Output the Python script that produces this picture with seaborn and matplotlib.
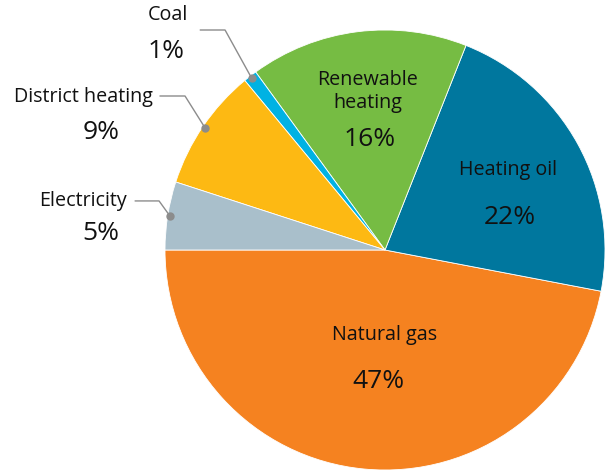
import numpy as np
import seaborn as sns
import matplotlib.pyplot as plt

# heating energy mix
sources = ["Natural gas", "Heating oil", "Renewable\nheating", "Coal", "District heating", "Electricity"]
shares = [47, 22, 16, 1, 9, 5]
colors = ["#F58220", "#00779E", "#76BC43", "#00B2E3", "#FDB913", "#A9BFCB"]

sns.set_theme(style="white")
plt.rcParams["font.family"] = ["Open Sans", "DejaVu Sans"]

fig = plt.figure(figsize=(6.05, 4.73), dpi=100)
ax = fig.add_axes([165 / 605, 3 / 473, 440 / 605, 440 / 473])
wedges, _ = ax.pie(shares, colors=colors, startangle=180, counterclock=True,
                   radius=1, wedgeprops=dict(linewidth=0.6, edgecolor="white"))
ax.set_xlim(-1, 1)
ax.set_ylim(-1, 1)
ax.set_aspect("equal")
ax.axis("off")

LAB, PCT = 14.2, 19

# labels inside the big slices
inside = {0: ((0, -0.386), (-0.03, -0.6)),
          1: ((0.56, 0.364), (0.568, 0.15)),
          2: ((-0.08, 0.72), (-0.068, 0.5))}
for i, (lab_pos, pct_pos) in inside.items():
    ax.text(*lab_pos, sources[i], ha="center", va="center", fontsize=LAB,
            color="#111111", linespacing=1.15)
    ax.text(*pct_pos, f"{shares[i]}%", ha="center", va="center", fontsize=PCT,
            color="#111111")

# labels outside with leader lines
outside = {3: ((-0.986, 1.066), (-0.995, 0.9), [(-0.84, 1.0), (-0.727, 1.0)]),
           4: ((-1.373, 0.695), (-1.29, 0.536), [(-1.023, 0.700), (-0.909, 0.700)]),
           5: ((-1.373, 0.222), (-1.29, 0.077), [(-1.136, 0.223), (-1.027, 0.223)])}
for i, (lab_pos, pct_pos, pts) in outside.items():
    w = wedges[i]
    mid = np.deg2rad((w.theta1 + w.theta2) / 2)
    dot = (0.99 * np.cos(mid), 0.99 * np.sin(mid))
    xs = [p[0] for p in pts] + [dot[0]]
    ys = [p[1] for p in pts] + [dot[1]]
    ax.plot(xs, ys, color="#8c8c8c", lw=1, clip_on=False)
    ax.plot(*dot, "o", color="#8c8c8c", ms=5, clip_on=False)
    ax.text(*lab_pos, sources[i], ha="center", va="center", fontsize=LAB,
            color="#111111", clip_on=False)
    ax.text(*pct_pos, f"{shares[i]}%", ha="center", va="center", fontsize=PCT,
            color="#111111", clip_on=False)

fig.savefig("out.png", dpi=100)
